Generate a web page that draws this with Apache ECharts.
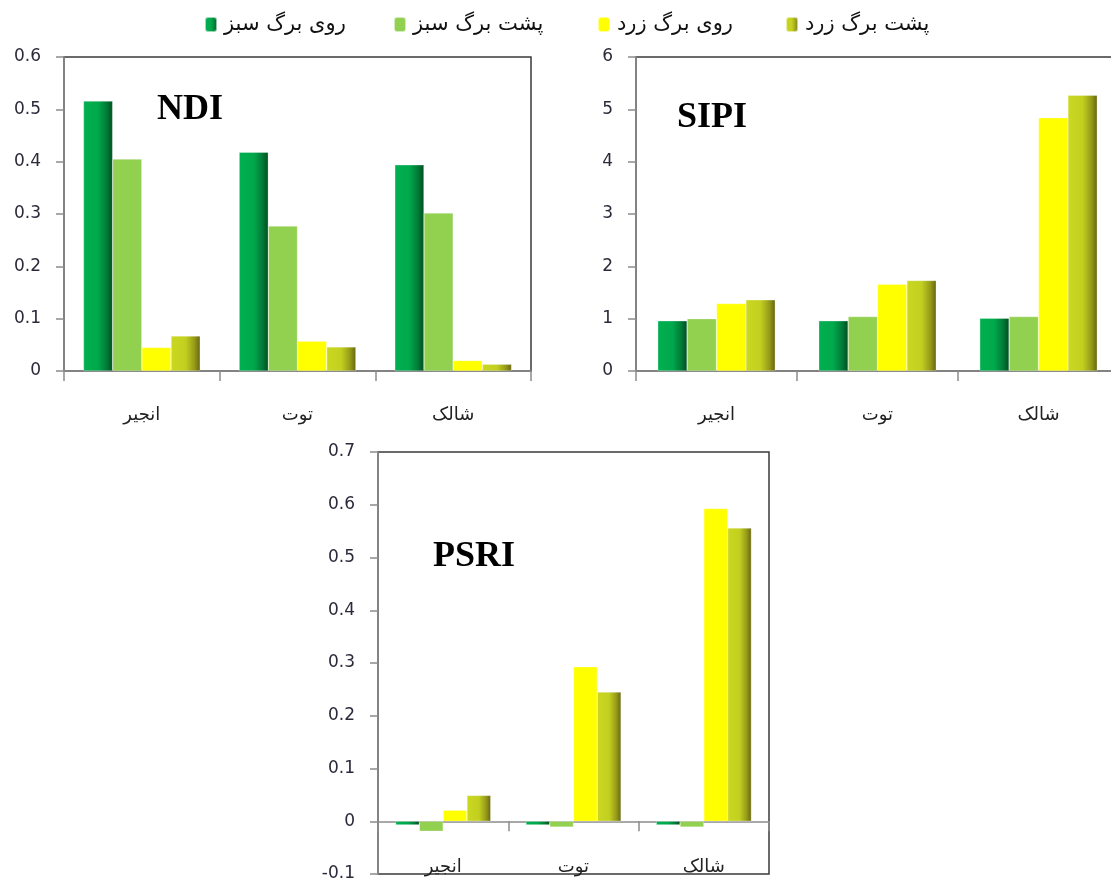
<!DOCTYPE html>
<html>
<head>
<meta charset="utf-8">
<script src="https://cdn.jsdelivr.net/npm/echarts@6/dist/echarts.min.js"></script>
<style>
  html, body { margin: 0; padding: 0; background: #fff; }
  #main { width: 1111px; height: 882px; }
</style>
</head>
<body>
<div id="main"></div>
<script>
// categories and series names
const categories = ['انجیر', 'توت', 'شالک'];
const seriesNames = ['روی برگ سبز', 'پشت برگ سبز', 'روی برگ زرد', 'پشت برگ زرد'];

// NDI
const ndiFrontGreen = [0.516, 0.418, 0.394];
const ndiBackGreen = [0.405, 0.277, 0.302];
const ndiFrontYellow = [0.045, 0.057, 0.020];
const ndiBackYellow = [0.067, 0.046, 0.013];
// SIPI
const sipiFrontGreen = [0.96, 0.96, 1.01];
const sipiBackGreen = [1.00, 1.04, 1.04];
const sipiFrontYellow = [1.29, 1.66, 4.84];
const sipiBackYellow = [1.36, 1.73, 5.27];
// PSRI
const psriFrontGreen = [-0.007, -0.007, -0.007];
const psriBackGreen = [-0.019, -0.011, -0.011];
const psriFrontYellow = [0.021, 0.293, 0.593];
const psriBackYellow = [0.049, 0.245, 0.556];

let chart = echarts.init(document.getElementById('main'));

/* 柱子颜色 */
let barColors = [
    new echarts.graphic.LinearGradient(0, 0, 1, 0, [
        { offset: 0, color: '#00b050' }, { offset: 0.5, color: '#00a84c' },
        { offset: 0.8, color: '#007a36' }, { offset: 1, color: '#004d20' }]),
    '#92d050',
    '#ffff00',
    new echarts.graphic.LinearGradient(0, 0, 1, 0, [
        { offset: 0, color: '#cad820' }, { offset: 0.5, color: '#c2cf20' },
        { offset: 0.8, color: '#969a18' }, { offset: 1, color: '#666610' }])
];

let panels = [
    { title: 'NDI', data: [ndiFrontGreen, ndiBackGreen, ndiFrontYellow, ndiBackYellow],
      grid: { left: 64, top: 57, width: 467, height: 314 }, min: 0, max: 0.6, interval: 0.1,
      gap: '25%', titlePos: { left: 157, top: 92 } },
    { title: 'SIPI', data: [sipiFrontGreen, sipiBackGreen, sipiFrontYellow, sipiBackYellow],
      grid: { left: 636, top: 57, width: 483, height: 314 }, min: 0, max: 6, interval: 1,
      gap: '27%', titlePos: { left: 677, top: 100 } },
    { title: 'PSRI', data: [psriFrontGreen, psriBackGreen, psriFrontYellow, psriBackYellow],
      grid: { left: 378, top: 452, width: 391, height: 422 }, min: -0.1, max: 0.7, interval: 0.1,
      gap: '27%', titlePos: { left: 433, top: 539 } }
];

let grids = [], xAxes = [], yAxes = [], titles = [], series = [];
panels.forEach((p, idx) => {
    grids.push(Object.assign({
        show: true, borderColor: '#3a3a3a', borderWidth: 1.5, backgroundColor: '#fff',
        containLabel: false, outerBoundsMode: 'none'
    }, p.grid));
    titles.push({
        text: p.title, left: p.titlePos.left, top: p.titlePos.top, padding: 0,
        textStyle: { fontFamily: 'Liberation Serif', fontWeight: 'bold', fontSize: 36, color: '#000' }
    });
    // 有负值时: 轴线移到0处, 标签留在底部
    let labelsAtBottom = p.min < 0;
    let zeroOffset = labelsAtBottom ? -(0 - p.min) / (p.max - p.min) * p.grid.height : 0;
    xAxes.push({
        type: 'category', gridIndex: idx, data: categories, position: 'bottom', offset: zeroOffset,
        axisLine: { onZero: false, lineStyle: { color: '#8c8c8c', width: 1.5 } },
        axisTick: { show: true, length: 10, lineStyle: { color: '#8c8c8c', width: 1.5 } },
        axisLabel: { show: !labelsAtBottom, margin: 35, fontFamily: 'DejaVu Sans', fontSize: 18, color: '#222' },
        splitLine: { show: false }
    });
    if (labelsAtBottom) {
        xAxes.push({
            type: 'category', gridIndex: idx, data: categories, position: 'bottom',
            axisLine: { show: false, onZero: false }, axisTick: { show: false },
            axisLabel: { inside: true, margin: -2, fontFamily: 'DejaVu Sans', fontSize: 18, color: '#222' },
            splitLine: { show: false }
        });
    }
    yAxes.push({
        type: 'value', gridIndex: idx, min: p.min, max: p.max, interval: p.interval,
        axisLine: { show: true, lineStyle: { color: '#8c8c8c', width: 1.5 } },
        axisTick: { show: true, length: 8, lineStyle: { color: '#8c8c8c', width: 1.5 } },
        axisLabel: { margin: 23, fontFamily: 'DejaVu Sans', fontSize: 17, color: '#2a2a3a' },
        splitLine: { show: false }
    });
    let xIdx = xAxes.length - (labelsAtBottom ? 2 : 1);
    p.data.forEach((vals, sIdx) => {
        series.push({
            name: seriesNames[sIdx], type: 'bar', xAxisIndex: xIdx, yAxisIndex: idx,
            data: vals, barGap: '0%', barCategoryGap: p.gap,
            itemStyle: { color: barColors[sIdx], borderColor: 'rgba(255,255,255,0.6)', borderWidth: 0.5 }
        });
    });
});

// 图例 (each item placed on its own)
let legendLeft = [204, 393, 597, 785];
let legends = seriesNames.map((name, i) => ({
    data: [name], left: legendLeft[i], top: 14, padding: 0,
    itemWidth: 12, itemHeight: 15, itemGap: 8,
    textStyle: { fontFamily: 'DejaVu Sans', fontSize: 21, color: '#111', padding: [0, 0, 0, 2] }
}));

chart.setOption({
    animation: false,
    title: titles,
    legend: legends,
    grid: grids,
    xAxis: xAxes,
    yAxis: yAxes,
    series: series
});
</script>
</body>
</html>
